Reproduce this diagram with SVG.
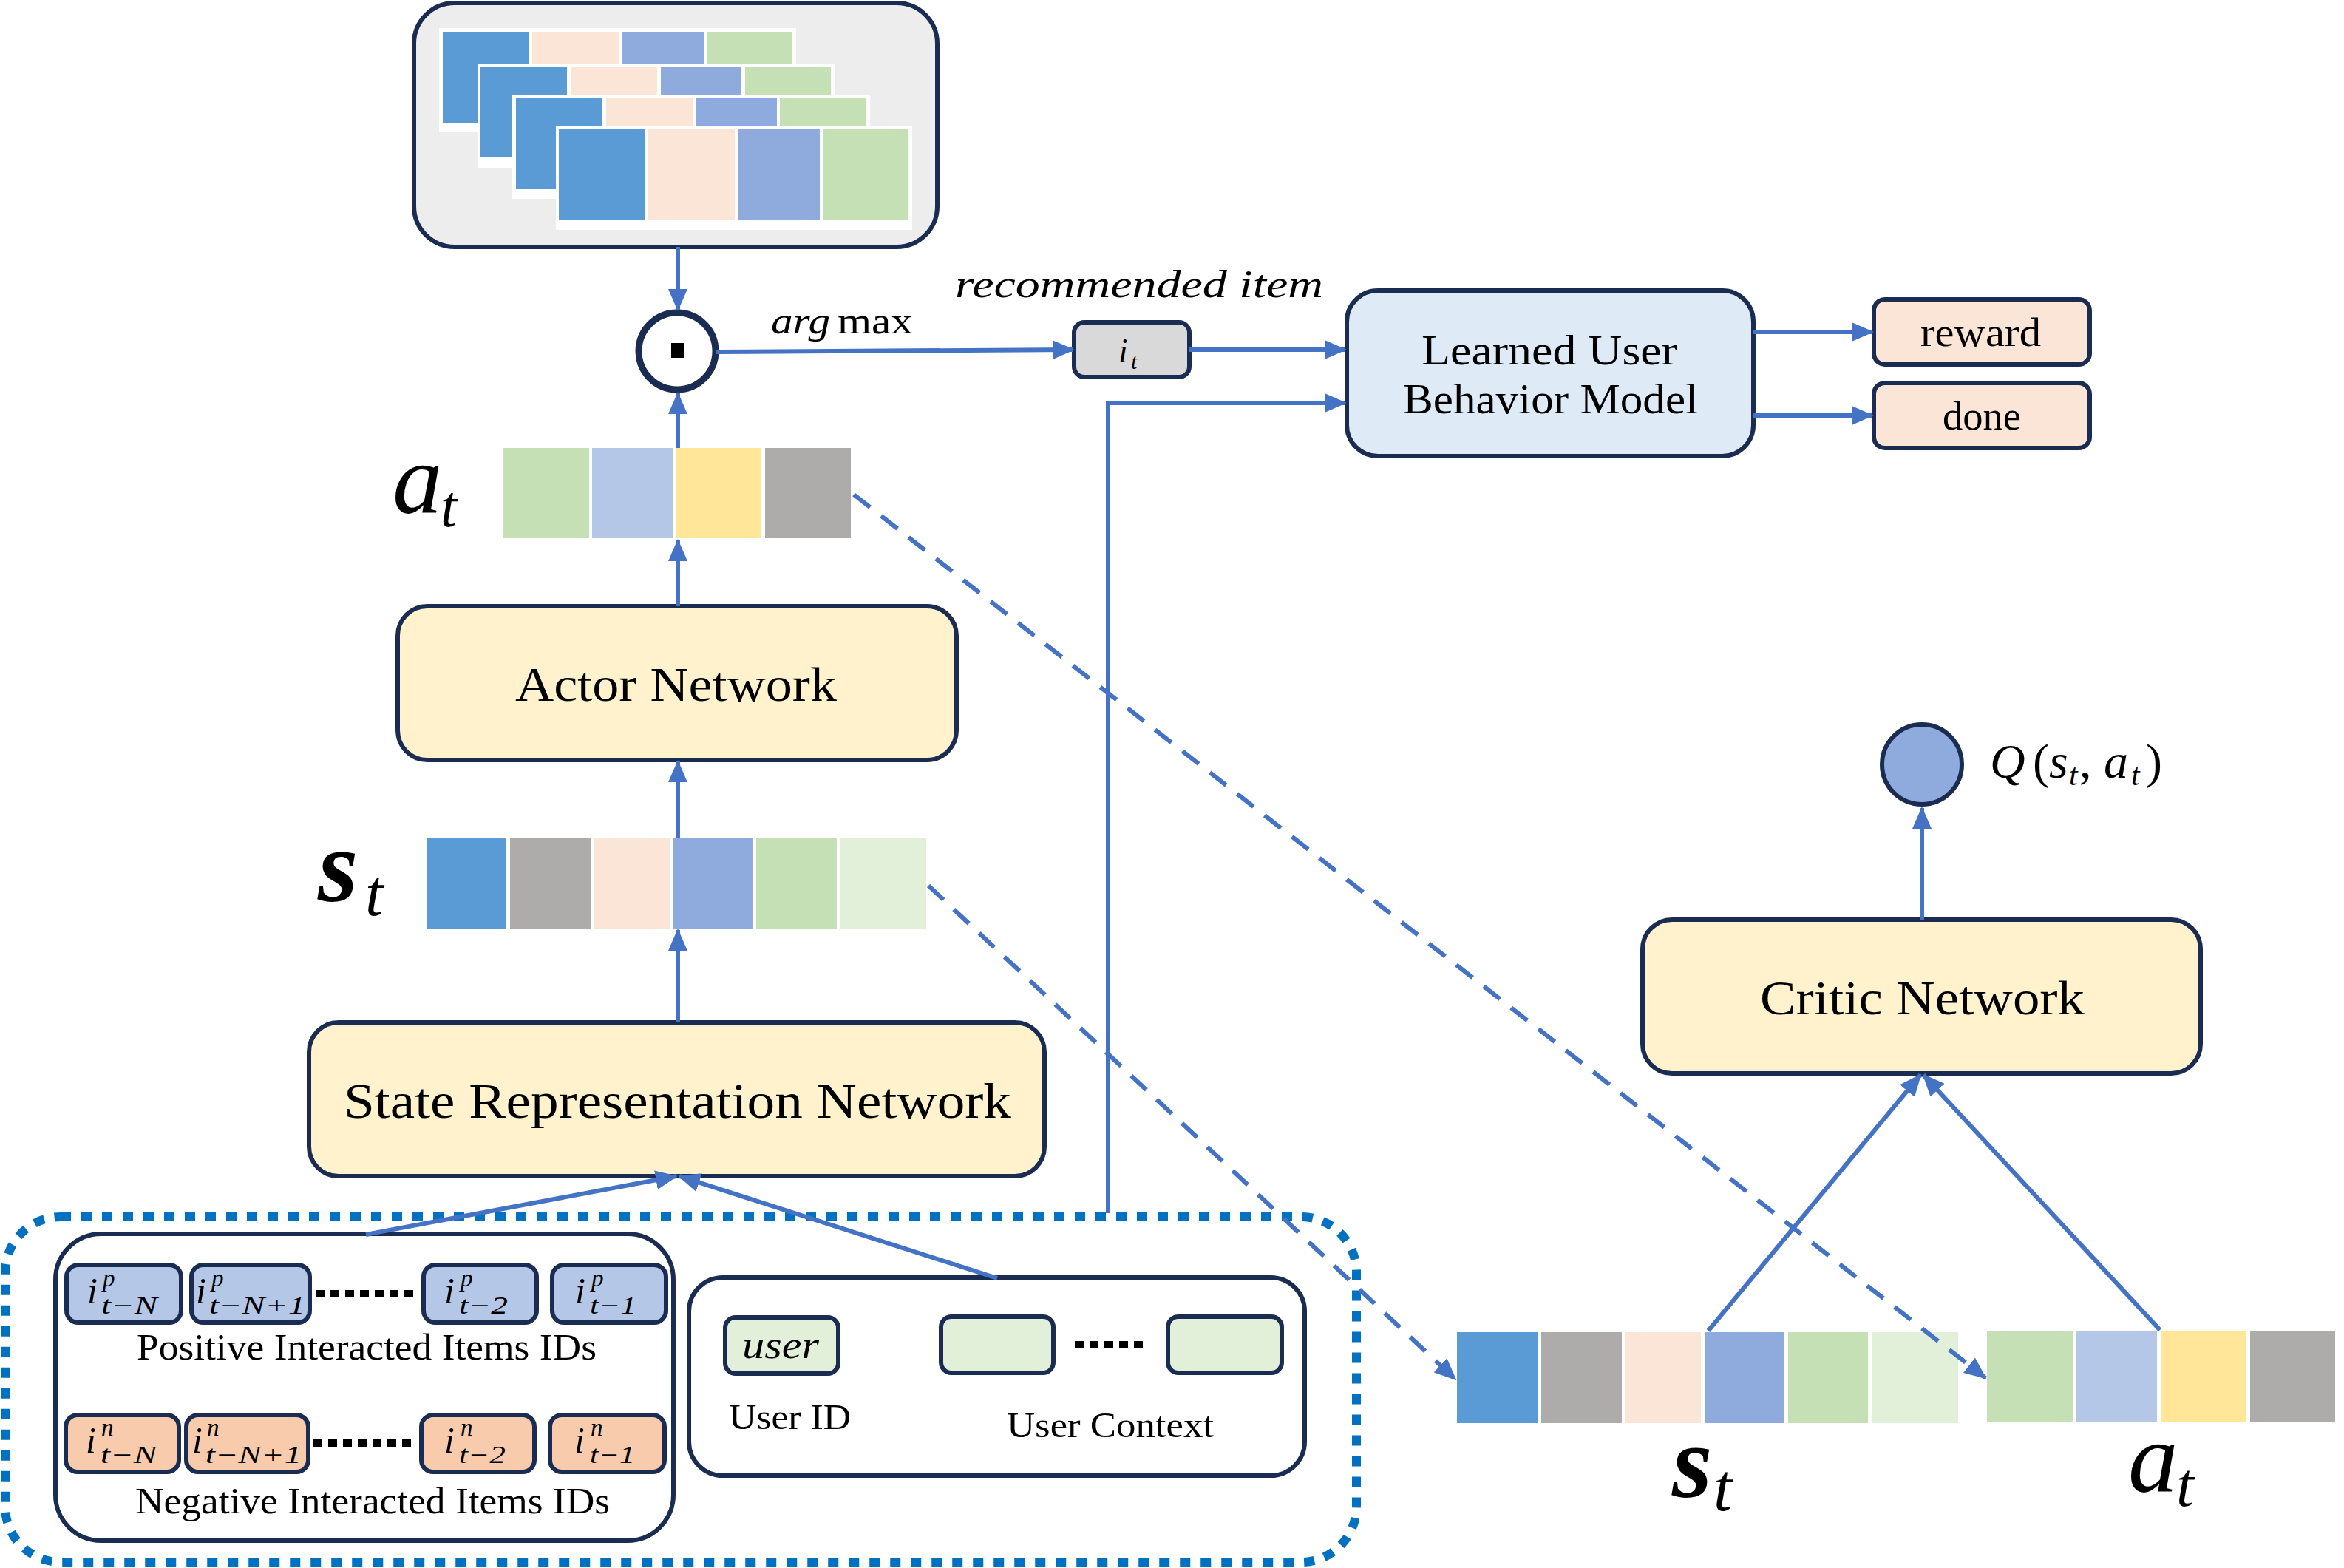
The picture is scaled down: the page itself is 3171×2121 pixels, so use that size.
<svg xmlns="http://www.w3.org/2000/svg" width="3171" height="2121" viewBox="0 0 3171 2121">
<defs>
<marker id="ah" viewBox="0 0 30 26" refX="28" refY="13" markerWidth="30" markerHeight="26" markerUnits="userSpaceOnUse" orient="auto"><path d="M0,0 L30,13 L0,26 z" fill="#4472c4"/></marker>
<style>
.box{stroke:#1a2c52;stroke-width:6}
.ybox{fill:#fff2cc;stroke:#1a2c52;stroke-width:6}
.pos{fill:#b4c7e7;stroke:#1a2c52;stroke-width:6}
.neg{fill:#f8cbad;stroke:#1a2c52;stroke-width:6}
.ctx{fill:#e2f0d9;stroke:#1a2c52;stroke-width:6}
.t{font-family:"Liberation Serif","DejaVu Serif",serif;fill:#000}
.it{font-family:"Liberation Serif","DejaVu Serif",serif;font-style:italic;fill:#000}
.s34{font-size:33px}
.c1{fill:#5b9bd5}.c2{fill:#fbe5d6}.c3{fill:#8faadc}.c4{fill:#c5e0b4}
.c5{fill:#aeabab}.c6{fill:#e2f0d9}.c7{fill:#b4c7e7}.c8{fill:#ffe699}
.ln{fill:none;stroke:#4472c4;stroke-width:6;marker-end:url(#ah)}
.dl{fill:none;stroke:#4472c4;stroke-width:6;stroke-dasharray:28 19;marker-end:url(#ah)}
.dots{stroke:#000;stroke-width:10;stroke-dasharray:12 8}
</style>
</defs>
<rect width="3171" height="2121" fill="#ffffff"/>

<g id="item-stack">
<rect class="box" x="560" y="4" width="708" height="330" rx="55" fill="#ededed"/>
<rect x="594" y="38" width="483" height="141" fill="#fff"/>
<rect class="c1" x="599" y="43" width="116" height="123"/><rect class="c2" x="720" y="43" width="117" height="123"/><rect class="c3" x="842" y="43" width="110" height="123"/><rect class="c4" x="957" y="43" width="115" height="123"/>
<rect x="646" y="86" width="483" height="141" fill="#fff"/>
<rect class="c1" x="650" y="90" width="117" height="123"/><rect class="c2" x="772" y="90" width="117" height="123"/><rect class="c3" x="894" y="90" width="109" height="123"/><rect class="c4" x="1008" y="90" width="116" height="123"/>
<rect x="693" y="128" width="484" height="141" fill="#fff"/>
<rect class="c1" x="698" y="133" width="117" height="123"/><rect class="c2" x="820" y="133" width="117" height="123"/><rect class="c3" x="941" y="133" width="110" height="123"/><rect class="c4" x="1055" y="133" width="117" height="123"/>
<rect x="752" y="170" width="482" height="141" fill="#fff"/>
<rect class="c1" x="756" y="174" width="116" height="123"/><rect class="c2" x="877" y="174" width="117" height="123"/><rect class="c3" x="999" y="174" width="110" height="123"/><rect class="c4" x="1113" y="174" width="116" height="123"/>
</g>

<g id="odot">
<circle cx="916" cy="475" r="52" fill="#fff" stroke="#1a2c52" stroke-width="9"/>
<rect x="908" y="464" width="18" height="20" fill="#000"/>
</g>

<g id="labels-argmax">
<text class="t" y="451" font-size="50"><tspan class="it" x="1043" textLength="80" lengthAdjust="spacingAndGlyphs">arg</tspan><tspan x="1133" textLength="102" lengthAdjust="spacingAndGlyphs">max</tspan></text>
<text class="it" x="1292" y="402" font-size="52" textLength="498" lengthAdjust="spacingAndGlyphs">recommended item</text>
</g>

<g id="item-it">
<rect class="box" x="1453" y="436" width="156" height="74" rx="14" fill="#d9d9d9"/>
<text class="it" font-size="46"><tspan x="1513" y="490">i</tspan><tspan x="1530" y="499" font-size="30">t</tspan></text>
</g>

<g id="user-model">
<rect class="box" x="1822" y="393" width="550" height="224" rx="42" fill="#deebf7"/>
<text class="t" x="1923" y="493" font-size="58" textLength="346" lengthAdjust="spacingAndGlyphs">Learned User</text>
<text class="t" x="1898" y="559" font-size="58" textLength="399" lengthAdjust="spacingAndGlyphs">Behavior Model</text>
</g>

<g id="reward">
<rect class="box" x="2535" y="405" width="292" height="88" rx="15" fill="#fbe5d6"/>
<text class="t" x="2598" y="468" font-size="54" textLength="163" lengthAdjust="spacingAndGlyphs">reward</text>
</g>
<g id="done">
<rect class="box" x="2535" y="518" width="292" height="88" rx="15" fill="#fbe5d6"/>
<text class="t" x="2628" y="581" font-size="54" textLength="106" lengthAdjust="spacingAndGlyphs">done</text>
</g>

<g id="action-vector">
<rect class="c4" x="681" y="606" width="116" height="122"/><rect class="c7" x="801" y="606" width="109" height="122"/><rect class="c8" x="915" y="606" width="115" height="122"/><rect class="c5" x="1035" y="606" width="116" height="122"/>
<text class="it" font-size="135"><tspan x="531" y="694">a</tspan><tspan x="596" y="712" font-size="80">t</tspan></text>
</g>

<g id="actor">
<rect class="ybox" x="538" y="820" width="756" height="208" rx="40"/>
<text class="t" x="697" y="948" font-size="66" textLength="435" lengthAdjust="spacingAndGlyphs">Actor Network</text>
</g>

<g id="state-vector">
<rect class="c1" x="577" y="1133" width="108" height="123"/><rect class="c5" x="690" y="1133" width="109" height="123"/><rect class="c2" x="803" y="1133" width="104" height="123"/><rect class="c3" x="911" y="1133" width="108" height="123"/><rect class="c4" x="1023" y="1133" width="109" height="123"/><rect class="c6" x="1136" y="1133" width="117" height="123"/>
<text class="it" font-size="140"><tspan x="430" y="1219" font-weight="bold">s</tspan><tspan x="494" y="1238" font-size="88">t</tspan></text>
</g>

<g id="srn">
<rect class="ybox" x="418" y="1383" width="995" height="208" rx="40"/>
<text class="t" x="465" y="1512" font-size="68" textLength="903" lengthAdjust="spacingAndGlyphs">State Representation Network</text>
</g>

<g id="input-frame">
<rect x="7" y="1646" width="1828" height="467" rx="75" fill="none" stroke="#0070c0" stroke-width="12" stroke-dasharray="14 14"/>
</g>

<g id="interacted-items">
<rect class="box" x="75" y="1669" width="836" height="415" rx="62" fill="#fff"/>
<rect class="pos" x="90" y="1711" width="155" height="78" rx="16"/>
<rect class="pos" x="259" y="1711" width="160" height="78" rx="16"/>
<rect class="pos" x="573" y="1711" width="153" height="78" rx="16"/>
<rect class="pos" x="747" y="1711" width="154" height="78" rx="16"/>
<line class="dots" x1="427" y1="1750" x2="563" y2="1750"/>
<text class="it" font-size="50"><tspan x="118" y="1763">i</tspan><tspan class="s34" x="139" y="1740">p</tspan><tspan class="s34" x="137" y="1777" textLength="76" lengthAdjust="spacingAndGlyphs">t−N</tspan></text>
<text class="it" font-size="50"><tspan x="265" y="1763">i</tspan><tspan class="s34" x="286" y="1740">p</tspan><tspan class="s34" x="283" y="1777" textLength="130" lengthAdjust="spacingAndGlyphs">t−N+1</tspan></text>
<text class="it" font-size="50"><tspan x="601" y="1763">i</tspan><tspan class="s34" x="623" y="1740">p</tspan><tspan class="s34" x="621" y="1777" textLength="66" lengthAdjust="spacingAndGlyphs">t−2</tspan></text>
<text class="it" font-size="50"><tspan x="778" y="1763">i</tspan><tspan class="s34" x="800" y="1740">p</tspan><tspan class="s34" x="798" y="1777" textLength="63" lengthAdjust="spacingAndGlyphs">t−1</tspan></text>
<text class="t" x="185" y="1839" font-size="50" textLength="622" lengthAdjust="spacingAndGlyphs">Positive Interacted Items IDs</text>
<rect class="neg" x="89" y="1914" width="153" height="77" rx="16"/>
<rect class="neg" x="252" y="1914" width="165" height="77" rx="16"/>
<rect class="neg" x="570" y="1914" width="153" height="77" rx="16"/>
<rect class="neg" x="744" y="1914" width="155" height="77" rx="16"/>
<line class="dots" x1="424" y1="1952" x2="560" y2="1952"/>
<text class="it" font-size="50"><tspan x="116" y="1965">i</tspan><tspan class="s34" x="137" y="1942">n</tspan><tspan class="s34" x="136" y="1979" textLength="76" lengthAdjust="spacingAndGlyphs">t−N</tspan></text>
<text class="it" font-size="50"><tspan x="260" y="1965">i</tspan><tspan class="s34" x="280" y="1942">n</tspan><tspan class="s34" x="278" y="1979" textLength="130" lengthAdjust="spacingAndGlyphs">t−N+1</tspan></text>
<text class="it" font-size="50"><tspan x="601" y="1965">i</tspan><tspan class="s34" x="623" y="1942">n</tspan><tspan class="s34" x="621" y="1979" textLength="63" lengthAdjust="spacingAndGlyphs">t−2</tspan></text>
<text class="it" font-size="50"><tspan x="777" y="1965">i</tspan><tspan class="s34" x="799" y="1942">n</tspan><tspan class="s34" x="798" y="1979" textLength="61" lengthAdjust="spacingAndGlyphs">t−1</tspan></text>
<text class="t" x="183" y="2047" font-size="50" textLength="642" lengthAdjust="spacingAndGlyphs">Negative Interacted Items IDs</text>
</g>

<g id="user-info">
<rect class="box" x="932" y="1728" width="833" height="268" rx="46" fill="#fff"/>
<rect class="ctx" x="981" y="1782" width="153" height="76" rx="14"/>
<text class="it" x="1004" y="1837" font-size="52" textLength="104" lengthAdjust="spacingAndGlyphs">user</text>
<rect class="ctx" x="1273" y="1781" width="152" height="76" rx="14"/>
<rect class="ctx" x="1580" y="1781" width="154" height="76" rx="14"/>
<line class="dots" x1="1454" y1="1819" x2="1546" y2="1819"/>
<text class="t" x="986" y="1933" font-size="48" textLength="165" lengthAdjust="spacingAndGlyphs">User ID</text>
<text class="t" x="1362" y="1944" font-size="48" textLength="280" lengthAdjust="spacingAndGlyphs">User Context</text>
</g>

<g id="critic-state">
<rect class="c1" x="1971" y="1802" width="109" height="123"/><rect class="c5" x="2085" y="1802" width="109" height="123"/><rect class="c2" x="2199" y="1802" width="102" height="123"/><rect class="c3" x="2306" y="1802" width="108" height="123"/><rect class="c4" x="2419" y="1802" width="108" height="123"/><rect class="c6" x="2533" y="1802" width="116" height="123"/>
<text class="it" font-size="140"><tspan x="2262" y="2025" font-weight="bold">s</tspan><tspan x="2318" y="2043" font-size="90">t</tspan></text>
</g>

<g id="critic-action">
<rect class="c4" x="2688" y="1800" width="117" height="123"/><rect class="c7" x="2809" y="1800" width="109" height="123"/><rect class="c8" x="2923" y="1800" width="115" height="123"/><rect class="c5" x="3044" y="1800" width="115" height="123"/>
<text class="it" font-size="135"><tspan x="2879" y="2018">a</tspan><tspan x="2944" y="2037" font-size="85">t</tspan></text>
</g>

<g id="critic">
<rect class="ybox" x="2222" y="1244" width="755" height="208" rx="40"/>
<text class="t" x="2381" y="1372" font-size="66" textLength="439" lengthAdjust="spacingAndGlyphs">Critic Network</text>
</g>

<g id="q-value">
<circle cx="2600" cy="1034" r="54" fill="#8faadc" stroke="#1a2c52" stroke-width="6"/>
<text class="it" y="1052" font-size="66"><tspan x="2692">Q</tspan><tspan x="2750" font-style="normal">(</tspan><tspan x="2772">s</tspan><tspan x="2799" y="1062" font-size="42">t</tspan><tspan x="2813" y="1052" font-style="normal">,</tspan><tspan x="2846">a</tspan><tspan x="2883" y="1062" font-size="42">t</tspan><tspan x="2903" y="1052" font-style="normal">)</tspan></text>
</g>

<g id="connectors">
<path class="ln" d="M917 334 V419"/>
<path class="ln" d="M917 606 V532"/>
<path class="ln" d="M917 820 V731"/>
<path class="ln" d="M917 1133 V1030"/>
<path class="ln" d="M917 1383 V1258"/>
<path class="ln" d="M495 1670 L915 1591"/>
<path class="ln" d="M1349 1729 L919 1591"/>
<path class="ln" d="M969 476 L1452 473"/>
<path class="ln" d="M1609 473 H1820"/>
<path class="ln" d="M1499 1641 V545 H1820"/>
<path class="ln" d="M2372 449 H2533"/>
<path class="ln" d="M2372 562 H2533"/>
<path class="dl" d="M1155 669 L2686 1864"/>
<path class="dl" d="M1256 1198 L1969 1866"/>
<path class="ln" d="M2311 1800 L2598 1454"/>
<path class="ln" d="M2922 1799 L2602 1454"/>
<path class="ln" d="M2600 1244 V1093"/>
</g>
</svg>
